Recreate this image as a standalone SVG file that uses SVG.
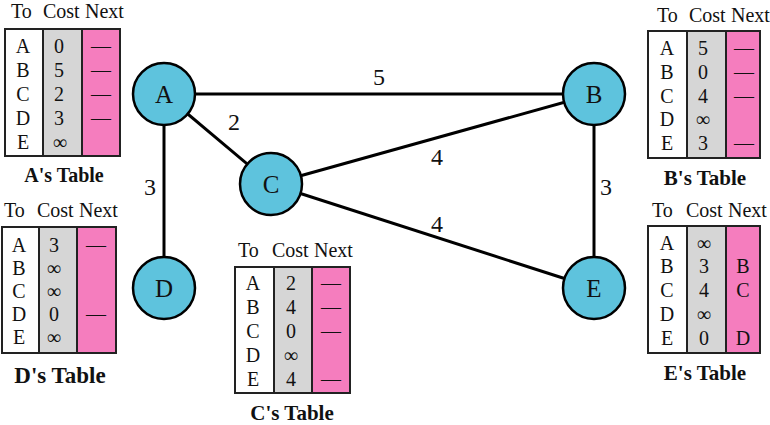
<svg xmlns="http://www.w3.org/2000/svg" width="770" height="425" viewBox="0 0 770 425" font-family="Liberation Serif, serif">
<style>
text{font-family:"Liberation Serif","Times New Roman",serif;fill:#111}
.edge{stroke:#000;stroke-width:3;fill:none}
.node circle{fill:#5ec3dd;stroke:#000;stroke-width:2.5}
.nl{font-size:25px;text-anchor:middle}
.el{font-size:24px;text-anchor:middle}
.hd{font-size:20px}
.c{font-size:20px;text-anchor:middle}
.w{fill:#fff}
.g{fill:#d6d6d6}
.p{fill:#f57dbe}
.frame{fill:none;stroke:#222;stroke-width:2}
.div{stroke:#222;stroke-width:2}
.ti{font-size:21px;font-weight:bold;text-anchor:middle}
</style>
<rect width="770" height="425" fill="#fff"/>
<g id="connectors">
<line class="edge" x1="164" y1="94" x2="594" y2="94"/>
<line class="edge" x1="164" y1="94" x2="271" y2="184"/>
<line class="edge" x1="164" y1="94" x2="164" y2="288"/>
<line class="edge" x1="271" y1="184" x2="594" y2="94"/>
<line class="edge" x1="271" y1="184" x2="594" y2="288"/>
<line class="edge" x1="594" y1="94" x2="594" y2="288"/>
<text class="el" x="379" y="85">5</text>
<text class="el" x="234" y="130">2</text>
<text class="el" x="150" y="195">3</text>
<text class="el" x="437" y="165">4</text>
<text class="el" x="606" y="195">3</text>
<text class="el" x="437" y="232">4</text>
</g>
<g id="A" class="node"><circle cx="164" cy="94" r="31"/><text class="nl" x="164" y="103">A</text></g>
<g id="B" class="node"><circle cx="594" cy="94" r="31"/><text class="nl" x="594" y="103">B</text></g>
<g id="C" class="node"><circle cx="271" cy="184" r="31"/><text class="nl" x="271" y="193">C</text></g>
<g id="D" class="node"><circle cx="164" cy="288" r="31"/><text class="nl" x="164" y="297">D</text></g>
<g id="E" class="node"><circle cx="594" cy="288" r="31"/><text class="nl" x="594" y="297">E</text></g>

<g id="tableA">
<text class="hd" x="11" y="18">To</text><text class="hd" x="43" y="18">Cost</text><text class="hd" x="85" y="18">Next</text>
<rect class="w" x="5" y="29" width="38" height="127"/><rect class="g" x="43" y="29" width="39" height="127"/><rect class="p" x="82" y="29" width="38" height="127"/>
<line class="div" x1="43" y1="29" x2="43" y2="156"/><line class="div" x1="82" y1="29" x2="82" y2="156"/>
<rect class="frame" x="5" y="29" width="115" height="127"/>
<text class="c" x="23" y="53">A</text><text class="c" x="23" y="77">B</text><text class="c" x="23" y="101">C</text><text class="c" x="23" y="125">D</text><text class="c" x="23" y="149">E</text>
<text class="c" x="59" y="53">0</text><text class="c" x="59" y="77">5</text><text class="c" x="59" y="101">2</text><text class="c" x="59" y="125">3</text><text class="c" x="60" y="149">&#8734;</text>
<text class="c" x="101" y="53">&#8212;</text><text class="c" x="101" y="77">&#8212;</text><text class="c" x="101" y="101">&#8212;</text><text class="c" x="101" y="125">&#8212;</text>
<text class="ti" style="font-size:20px" x="64" y="182">A's Table</text>
</g>

<g id="tableB">
<text class="hd" x="657" y="22">To</text><text class="hd" x="689" y="22">Cost</text><text class="hd" x="731" y="22">Next</text>
<rect class="w" x="648" y="31" width="39" height="127"/><rect class="g" x="687" y="31" width="39" height="127"/><rect class="p" x="726" y="31" width="34" height="127"/>
<line class="div" x1="687" y1="31" x2="687" y2="158"/><line class="div" x1="726" y1="31" x2="726" y2="158"/>
<rect class="frame" x="648" y="31" width="112" height="127"/>
<text class="c" x="667" y="55">A</text><text class="c" x="667" y="79">B</text><text class="c" x="667" y="103">C</text><text class="c" x="667" y="126">D</text><text class="c" x="667" y="150">E</text>
<text class="c" x="703" y="55">5</text><text class="c" x="703" y="79">0</text><text class="c" x="703" y="103">4</text><text class="c" x="703" y="126">&#8734;</text><text class="c" x="703" y="150">3</text>
<text class="c" x="744" y="55">&#8212;</text><text class="c" x="744" y="79">&#8212;</text><text class="c" x="744" y="103">&#8212;</text><text class="c" x="744" y="150">&#8212;</text>
<text class="ti" x="705" y="185">B's Table</text>
</g>

<g id="tableC">
<text class="hd" x="238" y="257">To</text><text class="hd" x="272" y="257">Cost</text><text class="hd" x="314" y="257">Next</text>
<rect class="w" x="235" y="267" width="39" height="126"/><rect class="g" x="274" y="267" width="38" height="126"/><rect class="p" x="312" y="267" width="38" height="126"/>
<line class="div" x1="274" y1="267" x2="274" y2="393"/><line class="div" x1="312" y1="267" x2="312" y2="393"/>
<rect class="frame" x="235" y="267" width="115" height="126"/>
<text class="c" x="253" y="290">A</text><text class="c" x="253" y="314">B</text><text class="c" x="253" y="338">C</text><text class="c" x="253" y="362">D</text><text class="c" x="253" y="386">E</text>
<text class="c" x="291" y="290">2</text><text class="c" x="291" y="314">4</text><text class="c" x="291" y="338">0</text><text class="c" x="291" y="362">&#8734;</text><text class="c" x="291" y="386">4</text>
<text class="c" x="331" y="290">&#8212;</text><text class="c" x="331" y="314">&#8212;</text><text class="c" x="331" y="338">&#8212;</text><text class="c" x="331" y="386">&#8212;</text>
<text class="ti" x="292" y="420">C's Table</text>
</g>

<g id="tableD">
<text class="hd" x="4" y="217">To</text><text class="hd" x="37" y="217">Cost</text><text class="hd" x="79" y="217">Next</text>
<rect class="w" x="2" y="227" width="37" height="126"/><rect class="g" x="39" y="227" width="38" height="126"/><rect class="p" x="77" y="227" width="39" height="126"/>
<line class="div" x1="39" y1="227" x2="39" y2="353"/><line class="div" x1="77" y1="227" x2="77" y2="353"/>
<rect class="frame" x="2" y="227" width="114" height="126"/>
<text class="c" x="19" y="252">A</text><text class="c" x="19" y="275">B</text><text class="c" x="19" y="298">C</text><text class="c" x="19" y="321">D</text><text class="c" x="19" y="344">E</text>
<text class="c" x="54" y="252">3</text><text class="c" x="54" y="275">&#8734;</text><text class="c" x="54" y="298">&#8734;</text><text class="c" x="54" y="321">0</text><text class="c" x="54" y="344">&#8734;</text>
<text class="c" x="96" y="252">&#8212;</text><text class="c" x="96" y="321">&#8212;</text>
<text class="ti" style="font-size:23px" x="60" y="383">D's Table</text>
</g>

<g id="tableE">
<text class="hd" x="652" y="217">To</text><text class="hd" x="686" y="217">Cost</text><text class="hd" x="728" y="217">Next</text>
<rect class="w" x="648" y="226" width="39" height="127"/><rect class="g" x="687" y="226" width="39" height="127"/><rect class="p" x="726" y="226" width="34" height="127"/>
<line class="div" x1="687" y1="226" x2="687" y2="353"/><line class="div" x1="726" y1="226" x2="726" y2="353"/>
<rect class="frame" x="648" y="226" width="112" height="127"/>
<text class="c" x="667" y="250">A</text><text class="c" x="667" y="273">B</text><text class="c" x="667" y="297">C</text><text class="c" x="667" y="321">D</text><text class="c" x="667" y="345">E</text>
<text class="c" x="704" y="250">&#8734;</text><text class="c" x="704" y="273">3</text><text class="c" x="704" y="297">4</text><text class="c" x="704" y="321">&#8734;</text><text class="c" x="704" y="345">0</text>
<text class="c" x="743" y="273">B</text><text class="c" x="743" y="297">C</text><text class="c" x="743" y="345">D</text>
<text class="ti" x="705" y="380">E's Table</text>
</g>
</svg>
